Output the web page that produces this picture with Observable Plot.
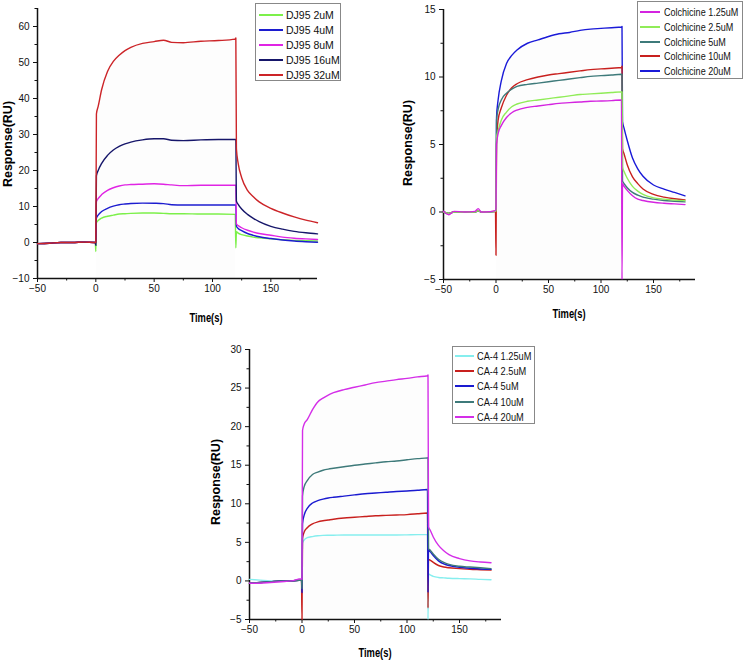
<!DOCTYPE html>
<html><head><meta charset="utf-8">
<script src="https://cdn.jsdelivr.net/npm/d3@7"></script>
<script src="https://cdn.jsdelivr.net/npm/@observablehq/plot@0.6"></script>
<style>
body{margin:0;background:#fff;}
#root{position:relative;width:744px;height:661px;overflow:hidden;font-family:"Liberation Sans",Arial,sans-serif;color:#000;}
.panel{position:absolute;}
.ylab{position:absolute;font-weight:bold;font-size:12.5px;transform:translate(-50%,-50%) rotate(-90deg);white-space:nowrap;}
.xlab{position:absolute;font-weight:bold;font-size:12px;transform:translate(-50%,-50%) scaleX(0.78);white-space:nowrap;}
.legend{position:absolute;border:1px solid #888;background:#fff;box-sizing:border-box;}
.lrow{position:absolute;left:0;right:0;height:14px;}
.lline{position:absolute;height:2px;top:6px;}
.ltext{position:absolute;top:0;line-height:14px;font-size:10px;white-space:nowrap;color:#111;transform-origin:0 50%;}
</style></head><body><div id="root"></div>
<script>
// ---------- Panel 1 : DJ95 ----------
const time1 = [-50,-40,-30,-20,-10,-0.5,0,0.5,2,5,10,15,20,25,30,40,50,58,65,75,90,105,119.5,120,120.5,122,125,130,135,140,150,160,170,180,190];
const dj95_2uM  = [-0.3,-0.2,0,0,0.1,0,-2.5, 5.5,6.1,6.8,7.3,7.6,7.9,8.0,8.1,8.2,8.2,8.1,8.0,8.0,7.9,7.9,7.8, -1.5, 3.0,2.6,2.2,1.8,1.5,1.3,1.0,0.8,0.6,0.5,0.4];
const dj95_4uM  = [-0.3,-0.2,0,0,0.1,0,-0.3, 6.8,7.6,8.6,9.5,10.1,10.5,10.7,10.85,10.95,10.9,10.8,10.5,10.4,10.4,10.4,10.4, 10.4, 4.5,3.9,3.3,2.5,2.0,1.6,1.1,0.7,0.4,0.2,0.05];
const dj95_8uM  = [-0.3,-0.2,0,0,0.1,0,0, 11.4,12.2,13.3,14.5,15.2,15.7,16.0,16.1,16.2,16.3,16.2,16.0,15.8,15.9,15.9,15.9, 15.9, 5.2,4.7,4.1,3.4,2.9,2.5,2.0,1.5,1.2,1.0,0.85];
const dj95_16uM = [-0.3,-0.2,0,0,0.1,0,-0.8, 18.5,20.0,22.0,24.2,25.7,26.7,27.4,27.9,28.5,28.8,28.8,28.4,28.3,28.5,28.6,28.6, 28.6, 11.5,10.6,9.3,7.8,6.7,5.8,4.5,3.7,3.1,2.7,2.4];
const dj95_32uM = [-0.3,-0.2,0,0,0.1,0,0, 35.7,37.8,42.5,47.5,50.3,52.0,53.3,54.2,55.3,55.8,56.2,55.6,55.5,55.9,56.1,56.5, 56.8, 26,22,18,14.5,12.7,11.3,9.5,8.2,7.1,6.2,5.5];
const names1  = ["DJ95 2uM","DJ95 4uM","DJ95 8uM","DJ95 16uM","DJ95 32uM"];
const colors1 = ["#7cf04a","#1c1ccf","#e024e4","#16166a","#cc2428"];
const series1 = [dj95_2uM,dj95_4uM,dj95_8uM,dj95_16uM,dj95_32uM];
const yTicks1 = [-10,0,10,20,30,40,50,60];
const yMinor1 = [-5,5,15,25,35,45,55,65];

// ---------- Panel 2 : Colchicine ----------
const time2 = [-50,-45,-40,-30,-20,-17,-14,-10,-0.5,0,0.5,2,5,10,15,20,30,40,50,60,70,80,90,100,110,119.5,120,120.5,122,125,130,135,140,150,160,170,180];
const colch_1_25 = [0.05,-0.2,0.05,0,0.05,0.25,0,0,0.1, 0.3, 5.0,5.8,6.4,7.0,7.35,7.55,7.75,7.85,7.95,8.05,8.1,8.15,8.2,8.22,8.25,8.3, -5, 2.1,1.9,1.6,1.2,0.95,0.85,0.72,0.65,0.6,0.55];
const colch_2_5  = [0,-0.1,0,0,0,0.1,0,0,0.05, 0.1, 5.5,6.0,6.8,7.4,7.8,8.0,8.2,8.3,8.4,8.5,8.6,8.7,8.75,8.8,8.85,8.9, 8.9, 3.3,3.0,2.5,1.9,1.55,1.3,1.05,0.95,0.88,0.84];
const colch_5    = [0,-0.1,0,0,0,0.1,0,0,0.05, 0.2, 6.8,7.6,8.3,8.8,9.1,9.3,9.45,9.55,9.65,9.75,9.85,9.95,10.05,10.1,10.15,10.2, 10.2, 2.3,2.1,1.8,1.45,1.25,1.1,0.95,0.85,0.8,0.75];
const colch_10   = [0,-0.1,0,0,0,0.1,0,0,0.05, -3.2, 5.0,6.8,7.7,8.65,9.2,9.5,9.8,10.0,10.15,10.25,10.35,10.45,10.55,10.6,10.65,10.7, 10.8, 4.7,4.3,3.5,2.6,2.1,1.7,1.3,1.1,0.98,0.9];
const colch_20   = [0,-0.1,0,0,0,0.1,0,0,0.05, 0.2, 7.0,8.3,9.7,11.0,11.6,12.0,12.5,12.75,13.0,13.2,13.3,13.45,13.55,13.6,13.65,13.7, 13.75, 6.7,6.2,5.3,4.0,3.2,2.65,2.0,1.7,1.45,1.2];
const names2  = ["Colchicine 1.25uM","Colchicine 2.5uM","Colchicine 5uM","Colchicine 10uM","Colchicine 20uM"];
const colors2 = ["#d424e0","#90ec58","#3e7a7a","#c8201e","#1a1ad8"];
const series2 = [colch_1_25,colch_2_5,colch_5,colch_10,colch_20];
const yTicks2 = [-5,0,5,10,15];
const yMinor2 = [-2.5,2.5,7.5,12.5];

// ---------- Panel 3 : CA-4 ----------
const time3 = [-50,-40,-30,-20,-10,-0.5,0,0.5,2,5,10,15,20,25,30,40,50,60,70,80,90,100,110,119.5,120,120.5,122,125,130,135,140,150,160,170,180];
const ca4_1_25 = [0.2,0.1,0,0,0,0.1, -0.5, 4.9,5.3,5.6,5.75,5.85,5.9,5.92,5.93,5.95,5.95,5.95,5.95,5.95,5.95,5.97,6.0,6.0, -5, 0.9,0.8,0.6,0.45,0.4,0.35,0.3,0.27,0.2,0.15];
const ca4_2_5  = [-0.3,-0.2,-0.1,0,0,0.1, -5, 5.5,6.3,6.9,7.4,7.65,7.8,7.9,8.0,8.15,8.25,8.35,8.45,8.5,8.55,8.6,8.7,8.8, -3.5, 2.8,2.7,2.4,2.0,1.8,1.7,1.6,1.5,1.45,1.4];
const ca4_5    = [-0.3,-0.2,-0.1,0,0,0.1, -1.5, 7.4,8.5,9.4,10.1,10.4,10.6,10.75,10.85,11.0,11.15,11.3,11.4,11.5,11.6,11.65,11.75,11.85, -1.5, 4.0,3.8,3.3,2.6,2.2,2.0,1.75,1.65,1.55,1.5];
const ca4_10   = [-0.3,-0.2,-0.1,0,0,0.1, -1, 11.0,12.2,13.0,13.8,14.1,14.35,14.5,14.6,14.8,15.0,15.15,15.3,15.45,15.55,15.7,15.85,15.95, 16.0, 4.2,4.0,3.5,2.8,2.4,2.15,1.9,1.8,1.7,1.6];
const ca4_20   = [-0.3,-0.3,-0.2,-0.1,0,0.3, 0.2, 19.5,20.3,20.9,22.2,23.2,23.7,24.1,24.4,24.8,25.1,25.4,25.7,25.9,26.1,26.25,26.45,26.6, 26.7, 7.0,6.6,5.7,4.6,3.9,3.4,2.9,2.6,2.45,2.35];
const names3  = ["CA-4 1.25uM","CA-4 2.5uM","CA-4 5uM","CA-4 10uM","CA-4 20uM"];
const colors3 = ["#86eeee","#c8201e","#1a1ad0","#3e7a7a","#d42ee8"];
const series3 = [ca4_1_25,ca4_2_5,ca4_5,ca4_10,ca4_20];
const yTicks3 = [-5,0,5,10,15,20,25,30];
const yMinor3 = [-2.5,2.5,7.5,12.5,17.5,22.5,27.5];

const xTicks = [-50,0,50,100,150];
const xMinor = [-25,25,75,125,175];
const xDomain = [-50,190];

const root = document.getElementById("root");

function rowsOf(time, series, names, order) {
  const rows = [];
  for (const i of order) series[i].forEach((v, k) => rows.push({t: time[k], v, s: names[i]}));
  return rows;
}

function makePanel(p) {
  const rows = rowsOf(p.time, p.series, p.names, p.order);
  const top = p.series[p.topIndex];
  const shade = p.time.map((t, k) => ({t, v: top[k]})).filter(d => d.t >= 0.5 && d.t <= 119.5);
  const chart = Plot.plot({
    width: p.width, height: p.height,
    marginLeft: p.ml, marginRight: p.mr, marginTop: p.mt, marginBottom: p.mb,
    x: {domain: xDomain},
    y: {domain: p.yDomain},
    color: {domain: p.names, range: p.colors},
    style: {fontFamily: '"Liberation Sans", Arial, sans-serif', fontSize: "10px", color: "#111", background: "transparent"},
    marks: [
      Plot.areaY(shade, {x: "t", y: "v", y1: p.yDomain[0], fill: "#fdfdfd", curve: "monotone-x"}),
      Plot.axisX({ticks: xTicks, tickSize: 4, tickPadding: 2, label: null}),
      Plot.axisX({ticks: xMinor, tickSize: 2.5, tickFormat: () => "", label: null}),
      Plot.axisY({ticks: p.yTicks, tickSize: 4, tickPadding: 4, label: null}),
      Plot.axisY({ticks: p.yMinor, tickSize: 2.5, tickFormat: () => "", label: null}),
      Plot.ruleX([xDomain[0]], {stroke: "#111", strokeWidth: 1.5}),
      Plot.ruleY([p.yDomain[0]], {stroke: "#111", strokeWidth: 1.5}),
      Plot.line(rows, {x: "t", y: "v", z: "s", stroke: "s", curve: "monotone-x", strokeWidth: 1.4})
    ]
  });
  const wrap = document.createElement("div");
  wrap.className = "panel";
  wrap.style.left = p.left + "px";
  wrap.style.top = p.top + "px";
  wrap.appendChild(chart);
  root.appendChild(wrap);

  const yl = document.createElement("div");
  yl.className = "ylab"; yl.textContent = "Response(RU)";
  yl.style.left = p.ylab[0] + "px"; yl.style.top = p.ylab[1] + "px";
  root.appendChild(yl);
  const xl = document.createElement("div");
  xl.className = "xlab"; xl.textContent = "Time(s)";
  xl.style.left = p.xlab[0] + "px"; xl.style.top = p.xlab[1] + "px";
  root.appendChild(xl);

  const lg = document.createElement("div");
  lg.className = "legend";
  const L = p.legend;
  lg.style.left = L.x + "px"; lg.style.top = L.y + "px";
  lg.style.width = L.w + "px"; lg.style.height = L.h + "px";
  p.names.forEach((n, i) => {
    const r = document.createElement("div");
    r.className = "lrow";
    r.style.top = Math.round(L.first + i * L.step - 7) + "px";
    const ln = document.createElement("div");
    ln.className = "lline";
    ln.style.left = L.l1 + "px"; ln.style.width = (L.l2 - L.l1) + "px";
    ln.style.background = p.colors[i];
    const tx = document.createElement("div");
    tx.className = "ltext"; tx.textContent = n;
    tx.style.left = L.tx + "px";
    tx.style.fontSize = L.fs + "px";
    tx.style.transform = "scaleX(" + L.sx + ")";
    r.appendChild(ln); r.appendChild(tx);
    lg.appendChild(r);
  });
  root.appendChild(lg);
}

makePanel({
  time: time1, series: series1, names: names1, colors: colors1, order: [0,1,2,3,4], topIndex: 4,
  left: 0, top: 0, width: 330, height: 325, ml: 37, mr: 13, mt: 8, mb: 47,
  yDomain: [-10, 65], yTicks: yTicks1, yMinor: yMinor1,
  ylab: [8, 144], xlab: [206, 318],
  legend: {x: 255, y: 3, w: 86, h: 78, first: 10.5, step: 15, l1: 3, l2: 27, tx: 30, fs: 10.5, sx: 1}
});
makePanel({
  time: time2, series: series2, names: names2, colors: colors2, order: [4,3,2,1,0], topIndex: 4,
  left: 400, top: 0, width: 300, height: 325, ml: 43, mr: 5, mt: 9, mb: 46,
  yDomain: [-5, 15], yTicks: yTicks2, yMinor: yMinor2,
  ylab: [408, 143], xlab: [569, 314],
  legend: {x: 637, y: 1, w: 106, h: 78, first: 10, step: 14.8, l1: 2, l2: 22, tx: 26, fs: 10.5, sx: 0.86}
});
makePanel({
  time: time3, series: series3, names: names3, colors: colors3, order: [0,1,2,3,4], topIndex: 4,
  left: 200, top: 330, width: 310, height: 331, ml: 49, mr: 9, mt: 19, mb: 42,
  yDomain: [-5, 30], yTicks: yTicks3, yMinor: yMinor3,
  ylab: [216, 482], xlab: [375, 653],
  legend: {x: 452, y: 346, w: 83, h: 78, first: 9, step: 15.2, l1: 2, l2: 21, tx: 24, fs: 10.5, sx: 0.88}
});
</script></body></html>
